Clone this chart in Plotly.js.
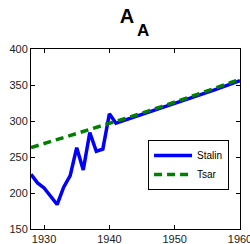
<!DOCTYPE html>
<html><head><meta charset="utf-8">
<script src="https://cdn.plot.ly/plotly-3.0.1.min.js"></script>
<style>html,body{margin:0;padding:0;background:#fff}#c{width:250px;height:244px}</style>
</head><body><div id="c"></div>
<script>
const stalinYears = [1928,1929,1930,1932,1933,1934,1935,1936,1937,1938,1939,1940,1941,1944,1948,1952,1956,1960];
const stalinValues = [226,214,207,184,208,224,263,232,284,258,261,310,297,306,318,331,343,356];
const tsarYears = [1928,1932,1936,1940,1944,1948,1952,1956,1960];
const tsarValues = [263,274,285,296,308,320,332,345,358];
const xTicks = [1930,1940,1950,1960];
const yTicks = [150,200,250,300,350,400];
const titleMain = 'A';
const titleSub = 'A';

const traces = [
  {x: stalinYears, y: stalinValues, name: 'Stalin', mode: 'lines',
   line: {color: '#0000ff', width: 3.5}},
  {x: tsarYears, y: tsarValues, name: 'Tsar', mode: 'lines',
   line: {color: '#007f00', width: 3.5, dash: '8px,5px'}}
];
const layout = {
  width: 250, height: 244,
  margin: {l: 31, r: 10, t: 49, b: 15},
  paper_bgcolor: '#fff', plot_bgcolor: '#fff',
  font: {family: 'Liberation Sans, Arial, sans-serif', size: 11, color: '#222'},
  title: {text: '<b>' + titleMain + '</b>', x: 127 / 250, xanchor: 'center', y: 1 - 16 / 244, yanchor: 'middle',
          font: {size: 20, color: '#000'}},
  annotations: [
    {text: '<b>' + titleSub + '</b>', xref: 'paper', yref: 'paper', x: (143 - 31) / 209, y: (229 - 31) / 180,
     xanchor: 'center', yanchor: 'middle', showarrow: false, font: {size: 17, color: '#000'}}
  ],
  xaxis: {range: [1928, 1960], tickvals: xTicks, ticks: 'inside', ticklen: 4, tickcolor: '#000',
          showline: true, linecolor: '#000', linewidth: 1, mirror: 'ticks', showgrid: false,
          zeroline: false, fixedrange: true, ticklabeloverflow: 'allow'},
  yaxis: {range: [150, 400], tickvals: yTicks, ticks: 'inside', ticklen: 4, tickcolor: '#000',
          showline: true, linecolor: '#000', linewidth: 1, mirror: 'ticks', showgrid: false,
          zeroline: false, fixedrange: true},
  legend: {x: 0.56, y: 0.494, xanchor: 'left', yanchor: 'top', bgcolor: '#fff',
           bordercolor: '#000', borderwidth: 1, font: {size: 10, color: '#000'},
           tracegroupgap: 0, itemwidth: 38}
};
Plotly.newPlot('c', traces, layout, {staticPlot: true});
</script></body></html>
